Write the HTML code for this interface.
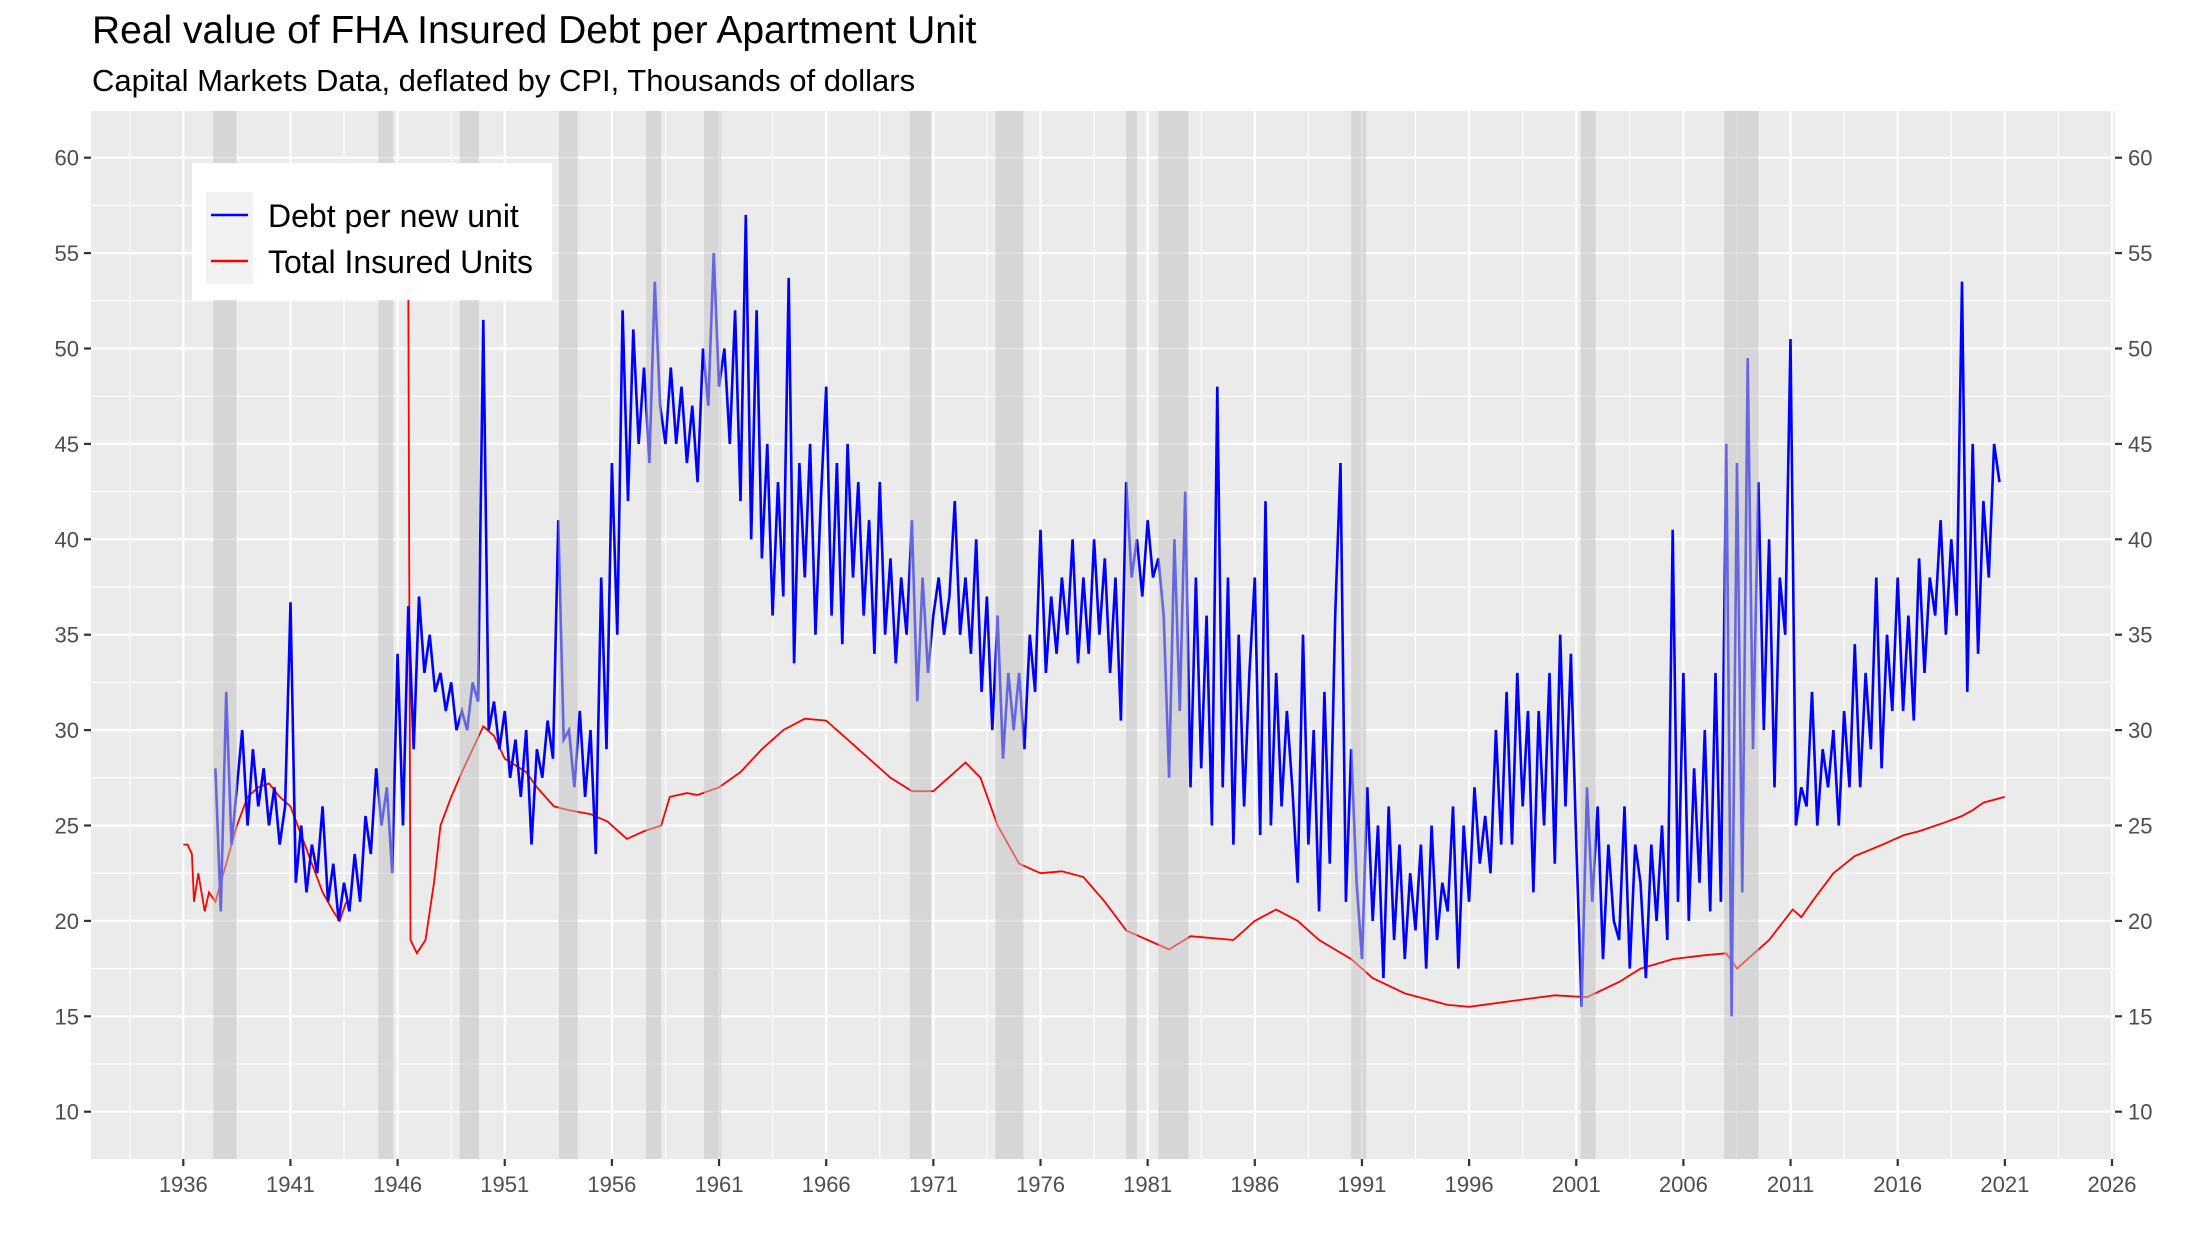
<!DOCTYPE html>
<html><head><meta charset="utf-8"><style>
html,body{margin:0;padding:0;background:#fff;}
svg{display:block;font-family:"Liberation Sans",Arial,sans-serif;}
</style></head><body>
<svg id="chart" width="2208" height="1248" viewBox="0 0 2208 1248" xmlns="http://www.w3.org/2000/svg">
<rect width="2208" height="1248" fill="#fff"/>
<text x="92" y="43" font-size="39" fill="#000">Real value of FHA Insured Debt per Apartment Unit</text>
<text x="92" y="91" font-size="31" fill="#000">Capital Markets Data, deflated by CPI, Thousands of dollars</text>
<g id="panel"></g>
<g id="legend">
<rect x="192" y="163" width="360" height="137" fill="#fff"/>
<rect x="206" y="192" width="47" height="92" fill="#f2f2f2"/>
<line x1="211" y1="215" x2="248" y2="215" stroke="#0000ff" stroke-width="2.5"/>
<line x1="211" y1="261" x2="248" y2="261" stroke="#ff0000" stroke-width="2.5"/>
<text x="268" y="227" font-size="32">Debt per new unit</text>
<text x="268" y="273" font-size="32">Total Insured Units</text>
</g>
</svg>
<script>
const blueStart = 1937.5;
const blueStep = 0.25;
const blueValues = [28,20.5,
32,24,27,30, 25,29,26,28, 25,27,24,26, 36.7,22,25,21.5, 24,22.5,26,21, 23,20,22,20.5,
23.5,21,25.5,23.5, 28,25,27,22.5, 34,25,36.5,29, 37,33,35,32, 33,31,32.5,30, 31,30,32.5,31.5,
51.5,30,31.5,29, 31,27.5,29.5,26.5, 30,24,29,27.5, 30.5,28.5,41,29.5, 30,27,31,26.5, 30,23.5,38,29,
44,35,52,42, 51,45,49,44, 53.5,47,45,49, 45,48,44,47, 43,50,47,55, 48,50,45,52, 42,57,40,52,
39,45,36,43, 37,53.7,33.5,44, 38,45,35,42, 48,36,44,34.5, 45,38,43,36, 41,34,43,35, 39,33.5,38,35,
41,31.5,38,33, 36,38,35,37, 42,35,38,34, 40,32,37,30, 36,28.5,33,30, 33,29,35,32, 40.5,33,37,34,
38,35,40,33.5, 38,34,40,35, 39,33,38,30.5, 43,38,40,37, 41,38,39,36, 27.5,40,31,42.5, 27,38,28,36,
25,48,27,38, 24,35,26,33, 38,24.5,42,25, 33,26,31,27, 22,35,24,30, 20.5,32,23,36, 44,21,29,22,
18,27,20,25, 17,26,19,24, 18,22.5,19.5,24, 17.5,25,19,22, 20.5,26,17.5,25, 21,27,23,25.5, 22.5,30,24,32,
24,33,26,31, 21.5,31,25,33, 23,35,26,34, 24,15.5,27,21, 26,18,24,20, 19,26,17.5,24, 22,17,24,20,
25,19,40.5,21, 33,20,28,22, 30,20.5,33,21, 45,15,44,21.5, 49.5,29,43,30, 40,27,38,35, 50.5,25,27,26,
32,25,29,27, 30,25,31,27, 34.5,27,33,29, 38,28,35,31, 38,31,36,30.5, 39,33,38,36, 41,35,40,36,
53.5,32,45,34, 42,38,45,43];
const redYearsA = [1936.0,1936.2,1936.4,1936.5,1936.7,1937.0,1937.2,1937.5,1938.0,1938.5,1939.0,1939.5,1940.0,1940.5,1941.0,1941.5,1942.0,1942.5,1943.0,1943.3,1943.6];
const redValuesA = [24,24,23.5,21,22.5,20.5,21.5,21,23,25,26.5,27,27.2,26.5,26,24.5,23,21.5,20.5,20,21];
const redYearsB = [1946.5,1946.6,1946.9,1947.3,1947.7,1948.0,1948.5,1949.0,1949.5,1950.0,1950.5,1951.0,1952.0,1952.5,1953.3,1954.0,1955.0,1955.8,1956.7,1957.5,1958.3,1958.7,1959.5,1960.0,1961.0,1962.0,1963.0,1964.0,1965.0,1966.0,1967.0,1968.0,1969.0,1970.0,1971.0,1971.7,1972.5,1973.2,1974.0,1975.0,1976.0,1977.0,1978.0,1979.0,1980.0,1981.0,1982.0,1983.0,1985.0,1986.0,1987.0,1988.0,1989.0,1990.5,1991.5,1993.0,1995.0,1996.0,1998.0,2000.0,2001.5,2003.0,2004.0,2005.5,2007.0,2008.0,2008.5,2009.3,2010.0,2011.1,2011.5,2012.0,2013.0,2014.0,2015.3,2016.3,2017.0,2018.3,2019.0,2019.5,2020.0,2021.0];
const redValuesB = [53,19,18.3,19,22,25,26.5,27.8,29,30.2,29.7,28.5,27.8,27,26,25.8,25.6,25.2,24.3,24.7,25,26.5,26.7,26.6,27,27.8,29,30,30.6,30.5,29.5,28.5,27.5,26.8,26.8,27.5,28.3,27.5,25,23,22.5,22.6,22.3,21,19.5,19,18.5,19.2,19,20,20.6,20,19,18,17,16.2,15.6,15.5,15.8,16.1,16.0,16.8,17.5,18,18.2,18.3,17.5,18.3,19,20.6,20.2,21,22.5,23.4,24.0,24.5,24.7,25.2,25.5,25.8,26.2,26.5];
const recessionStarts = [1937.4,1945.1,1948.9,1953.5,1957.6,1960.3,1969.9,1973.9,1980.0,1981.5,1990.5,2001.2,2007.9];
const recessionEnds = [1938.5,1945.8,1949.8,1954.4,1958.3,1961.1,1970.9,1975.2,1980.5,1982.9,1991.2,2001.9,2009.5];
const xTicks = [1936,1941,1946,1951,1956,1961,1966,1971,1976,1981,1986,1991,1996,2001,2006,2011,2016,2021,2026];
const yTicks = [10,15,20,25,30,35,40,45,50,55,60];

const NS='http://www.w3.org/2000/svg';
const PL=91, PR=2115, PT=111, PB=1159;
const xScale = yr => 183.3 + (yr-1936)*21.43;
const yScale = v => 1111.7 - (v-10)*19.08;
const panel = document.getElementById('panel');
function mk(tag, attrs, parent){const e=document.createElementNS(NS,tag);for(const k in attrs)e.setAttribute(k,attrs[k]);(parent||panel).appendChild(e);return e;}

const bg = mk('rect',{x:PL,y:PT,width:PR-PL,height:PB-PT,fill:'#ebebeb'});


for(let i=0;i<xTicks.length;i++){const x=xScale(xTicks[i]-2.5);if(x>PL&&x<PR)mk('line',{x1:x,x2:x,y1:PT,y2:PB,stroke:'#fff','stroke-width':1.1});}
for(let i=0;i<yTicks.length;i++){const y=yScale(yTicks[i]-2.5);if(y>PT&&y<PB)mk('line',{x1:PL,x2:PR,y1:y,y2:y,stroke:'#fff','stroke-width':1.1});}
{const y=yScale(62.5);if(y>PT)mk('line',{x1:PL,x2:PR,y1:y,y2:y,stroke:'#fff','stroke-width':1.1});}
xTicks.forEach(t=>{const x=xScale(t);
 mk('line',{x1:x,x2:x,y1:PT,y2:PB,stroke:'#fff','stroke-width':2.2});
 mk('line',{x1:x,x2:x,y1:PB,y2:PB+7,stroke:'#333','stroke-width':2.2});
 const tx=mk('text',{x:x,y:PB+33,'font-size':22,fill:'#4d4d4d','text-anchor':'middle'});tx.textContent=t;
 
 
});
yTicks.forEach(t=>{const y=yScale(t);
 mk('line',{x1:PL,x2:PR,y1:y,y2:y,stroke:'#fff','stroke-width':2.2});
 mk('line',{x1:PL-7,x2:PL,y1:y,y2:y,stroke:'#333','stroke-width':2.2});
 mk('line',{x1:PR,x2:PR+7,y1:y,y2:y,stroke:'#333','stroke-width':2.2});
 const l=mk('text',{x:PL-12,y:y+8,'font-size':22,fill:'#4d4d4d','text-anchor':'end'});l.textContent=t;
 
 
 const r=mk('text',{x:PR+13,y:y+8,'font-size':22,fill:'#4d4d4d'});r.textContent=t;
 
 
});
function pathOf(xs,vs){return xs.map((x,i)=>(i?'L':'M')+xScale(x).toFixed(1)+','+yScale(vs[i]).toFixed(1)).join('');}
const redA=mk('path',{d:pathOf(redYearsA,redValuesA),fill:'none',stroke:'#ff0000','stroke-width':1.8});


const redB=mk('path',{d:pathOf(redYearsB,redValuesB),fill:'none',stroke:'#ff0000','stroke-width':1.8});


const blueYears=blueValues.map((v,i)=>blueStart+i*blueStep);
const blue=mk('path',{d:pathOf(blueYears,blueValues),fill:'none',stroke:'#0000ff','stroke-width':2.6,'stroke-linejoin':'miter'});


recessionStarts.forEach((s,i)=>{const x0=xScale(s),x1=xScale(recessionEnds[i]);
 const r=mk('rect',{x:x0,y:PT,width:x1-x0,height:PB-PT,fill:'rgb(196,196,196)','fill-opacity':0.52});
 
 
});
</script>
</body></html>
